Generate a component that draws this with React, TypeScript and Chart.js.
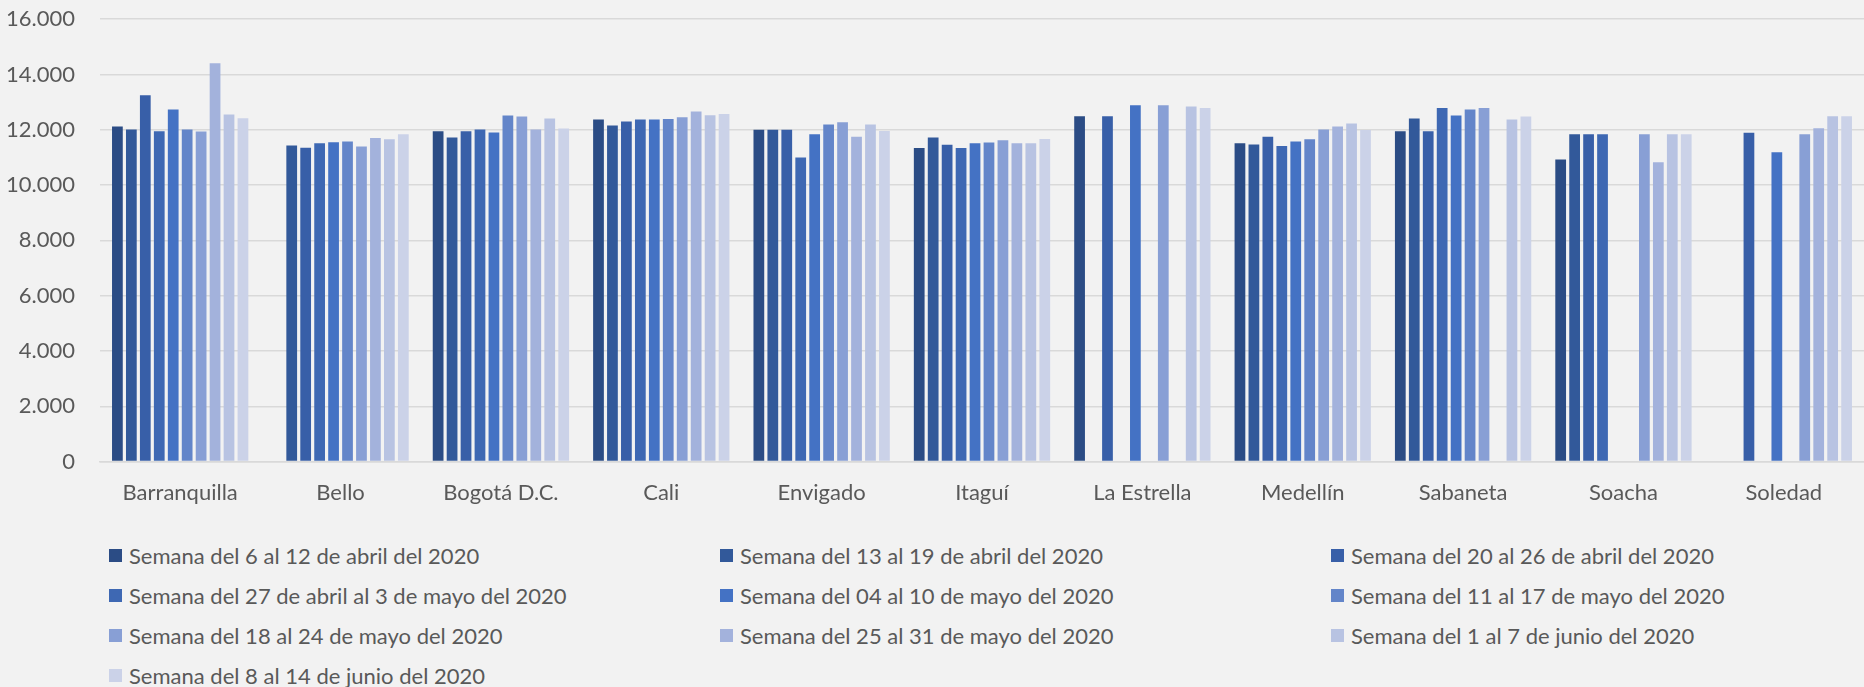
import React, { useEffect, useRef } from "react";
import { Chart, registerables } from "chart.js";

Chart.register(...registerables);

const categories = [
  "Barranquilla",
  "Bello",
  "Bogotá D.C.",
  "Cali",
  "Envigado",
  "Itaguí",
  "La Estrella",
  "Medellín",
  "Sabaneta",
  "Soacha",
  "Soledad",
];

const seriesLabels = [
  "Semana del 6 al 12 de abril del 2020",
  "Semana del 13 al 19 de abril del 2020",
  "Semana del 20 al 26 de abril del 2020",
  "Semana del 27 de abril al 3 de mayo del 2020",
  "Semana del 04 al 10 de mayo del 2020",
  "Semana del 11 al 17 de mayo del 2020",
  "Semana del 18 al 24 de mayo del 2020",
  "Semana del 25 al 31 de mayo del 2020",
  "Semana del 1 al 7 de junio del 2020",
  "Semana del 8 al 14 de junio del 2020",
];

const week1 = [12120, null, 11950, 12370, 12000, 11340, 12490, 11510, 11950, 10930, null];
const week2 = [12010, 11430, 11720, 12160, 12000, 11720, null, 11470, 12410, 11840, null];
const week3 = [13250, 11350, 11950, 12300, 12000, 11460, 12490, 11750, 11950, 11840, 11890];
const week4 = [11950, 11510, 12010, 12370, 11000, 11340, null, 11410, 12790, 11840, null];
const week5 = [12730, 11550, 11900, 12370, 11840, 11510, 12890, 11580, 12520, null, 11190];
const week6 = [12010, 11580, 12520, 12390, 12190, 11540, null, 11660, 12730, null, null];
const week7 = [11940, 11400, 12480, 12450, 12270, 11620, 12890, 12010, 12790, 11840, 11840];
const week8 = [14410, 11700, 12010, 12660, 11750, 11510, null, 12120, null, 10830, 12060];
const week9 = [12550, 11660, 12410, 12530, 12190, 11510, 12840, 12230, 12370, 11840, 12490];
const week10 = [12420, 11840, 12050, 12570, 11960, 11670, 12790, 11990, 12480, 11840, 12490];

const seriesValues = [week1, week2, week3, week4, week5, week6, week7, week8, week9, week10];

const seriesColors = [
  "#2b4c85",
  "#32599a",
  "#385fa8",
  "#3e68b3",
  "#4472c4",
  "#6385c9",
  "#889fd5",
  "#a3b2dc",
  "#b8c3e2",
  "#cbd2e8",
];

const yMin = 0;
const yMax = 16000;
const yStep = 2000;

const FONT = "Lato, 'Liberation Sans', sans-serif";
const TEXT = "#595959";

function fmt(v: number): string {
  return Math.round(v)
    .toString()
    .replace(/\B(?=(\d{3})+(?!\d))/g, ".");
}

export default function App() {
  const canvasRef = useRef<HTMLCanvasElement | null>(null);

  useEffect(() => {
    document.body.style.margin = "0";
    document.body.style.background = "#f2f2f2";
    const ctx = canvasRef.current;
    if (!ctx) return;
    const chart = new Chart(ctx, {
      type: "bar",
      data: {
        labels: categories,
        datasets: seriesValues.map((vals, i) => ({
          label: seriesLabels[i],
          data: vals,
          backgroundColor: seriesColors[i],
          borderWidth: 0,
          categoryPercentage: 0.87,
          barPercentage: 0.77,
        })),
      },
      options: {
        animation: false,
        responsive: false,
        maintainAspectRatio: false,
        layout: { padding: { top: 0, left: 0, right: 0, bottom: 4 } },
        plugins: {
          legend: { display: false },
          tooltip: { enabled: false },
          title: { display: false },
        },
        scales: {
          x: {
            grid: { display: false, drawTicks: false },
            border: { display: true, color: "#d9d9d9", width: 1.5 },
            ticks: {
              color: TEXT,
              font: { family: FONT, size: 22 },
              padding: 18,
              maxRotation: 0,
              autoSkip: false,
            },
          },
          y: {
            min: yMin,
            max: yMax,
            grid: { color: "#d9d9d9", lineWidth: 1.5, drawTicks: false },
            border: { display: false },
            afterFit: (scale: any) => {
              scale.width = 100;
            },
            ticks: {
              stepSize: yStep,
              color: TEXT,
              font: { family: FONT, size: 22 },
              padding: 25,
              callback: (v: any) => fmt(Number(v)),
            },
          },
        },
      },
    });
    return () => chart.destroy();
  }, []);

  return (
    <div
      style={{
        position: "fixed",
        left: 0,
        top: 0,
        width: 1864,
        height: 687,
        background: "#f2f2f2",
        overflow: "hidden",
      }}
    >
      <canvas
        ref={canvasRef}
        width={1864}
        height={547}
        style={{ position: "absolute", left: 0, top: -19, width: 1864, height: 547 }}
      />
      <div
        style={{
          position: "absolute",
          left: 109,
          top: 535,
          display: "grid",
          gridTemplateColumns: "611px 611px 611px",
          gridAutoRows: "40px",
          fontFamily: FONT,
          fontSize: 22,
          color: TEXT,
        }}
      >
        {seriesLabels.map((lab, i) => (
          <div key={i} style={{ display: "flex", alignItems: "center", whiteSpace: "nowrap" }}>
            <span
              style={{
                display: "inline-block",
                width: 13,
                height: 13,
                background: seriesColors[i],
                marginRight: 7,
                flex: "none",
              }}
            />
            <span>{lab}</span>
          </div>
        ))}
      </div>
    </div>
  );
}
